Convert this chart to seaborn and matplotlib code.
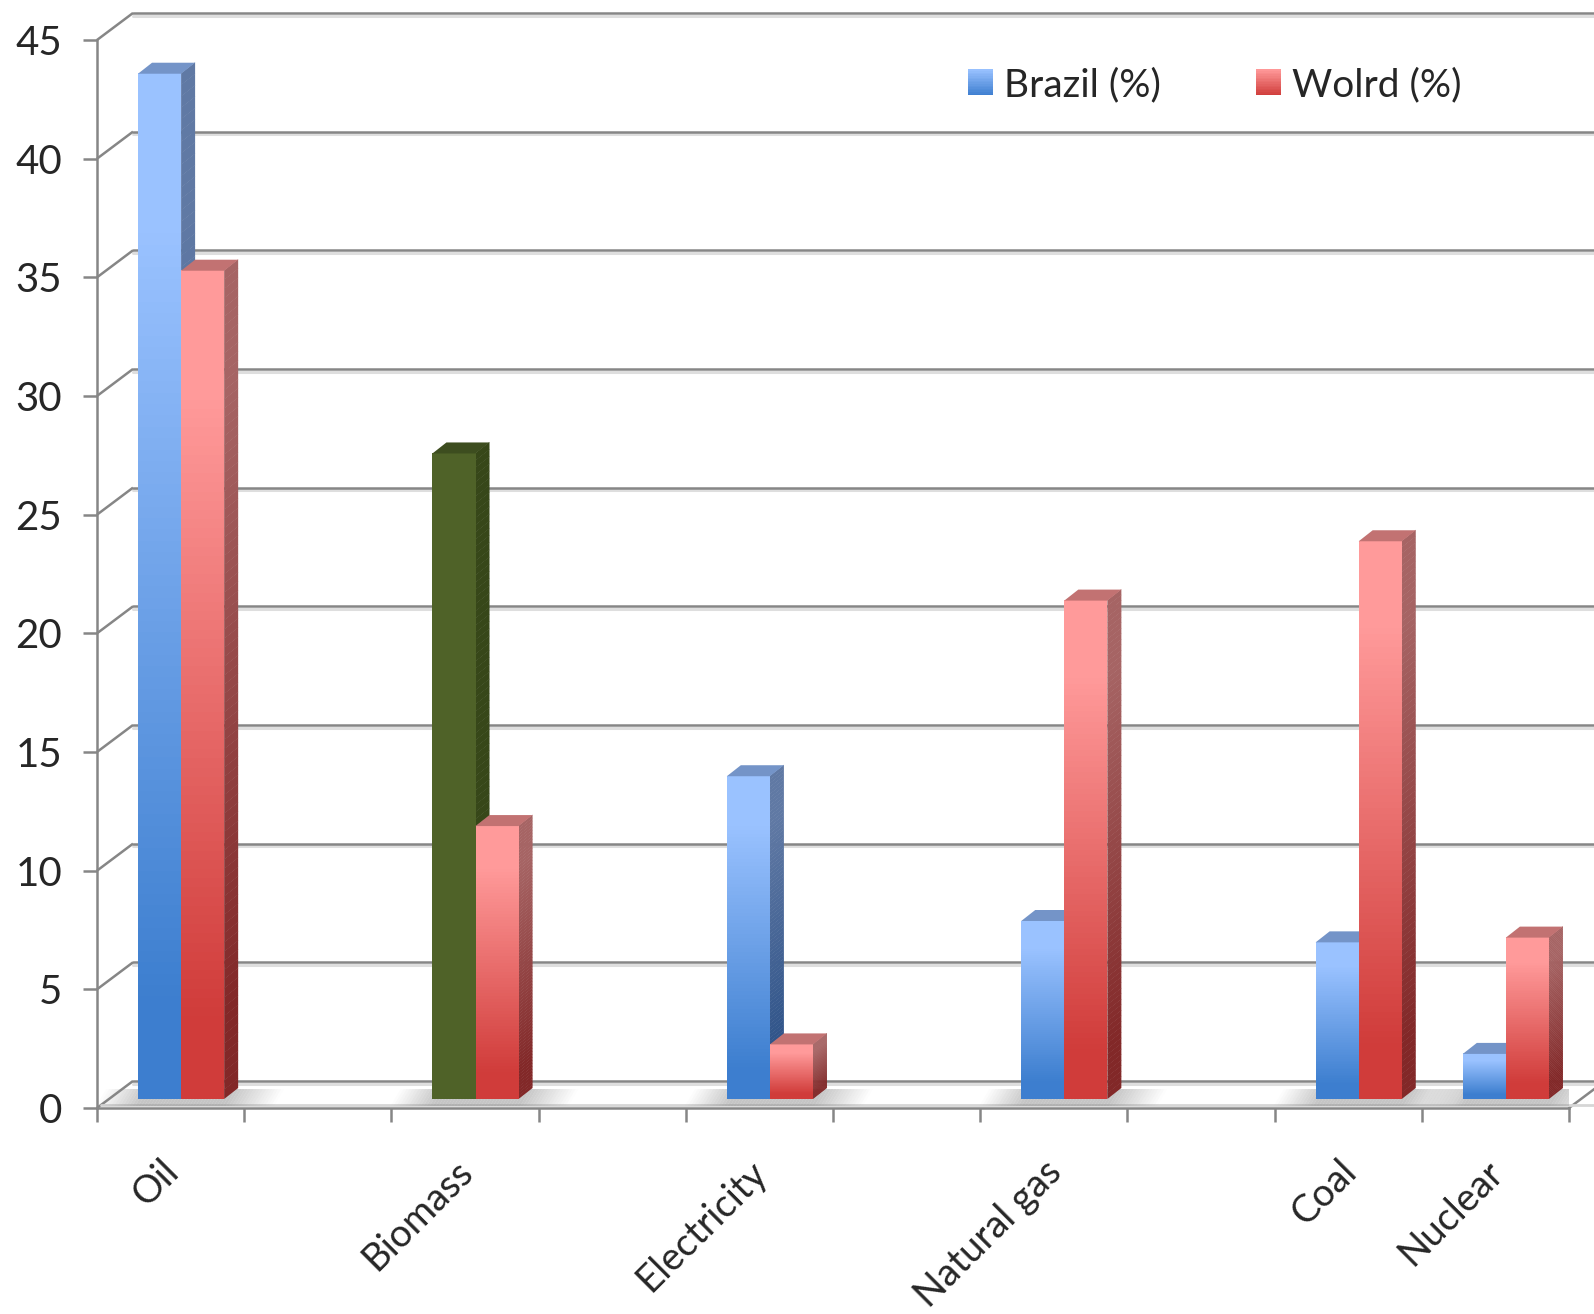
import numpy as np
import pandas as pd
import seaborn as sns
import matplotlib
matplotlib.use('Agg')
import matplotlib.pyplot as plt
from matplotlib.collections import PolyCollection
from matplotlib.legend_handler import HandlerBase
from matplotlib.patches import Rectangle, Patch, Polygon
from matplotlib.colors import to_rgb
import matplotlib.transforms as mtransforms

# Data
categories = ['Oil', 'Biomass', 'Electricity', 'Natural gas', 'Coal', 'Nuclear']
brazil = [43.2, 27.2, 13.6, 7.5, 6.6, 1.9]
world = [34.9, 11.5, 2.3, 21.0, 23.5, 6.8]
series_names = ['Brazil (%)', 'Wolrd (%)']
# the source sheet has blank category rows, which leave empty slots on the axis
axis_order = ['Oil', '', 'Biomass', ' ', 'Electricity', '  ', 'Natural gas', '   ', 'Coal', 'Nuclear']
y_ticks = [0, 5, 10, 15, 20, 25, 30, 35, 40, 45]

# Colours (front light/dark, side light/dark, top)
BLUE = dict(light='#9ac2ff', dark='#3d7ecf', side_light='#6079a4', side_dark='#2c5187', top='#7494c8')
RED = dict(light='#ff9a9a', dark='#d03c3a', side_light='#a66464', side_dark='#822828', top='#c27272')
GREEN = dict(light='#4f6228', dark='#4f6228', side_light='#374719', side_dark='#374719', top='#3d4d1f')
GRID = '#868686'


def mix(c0, c1, t):
    a, b = np.array(to_rgb(c0)), np.array(to_rgb(c1))
    return tuple(a + (b - a) * t)


def front_shade(t):
    # dark at the bottom, light towards the top of each bar
    return float(np.clip((t - 0.1) / 0.75, 0, 1))


class GradientHandler(HandlerBase):
    def __init__(self, light, dark):
        super().__init__()
        self.light, self.dark = light, dark

    def create_artists(self, legend, orig_handle, xdescent, ydescent, width, height, fontsize, trans):
        n = 16
        arts = []
        for i in range(n):
            c = mix(self.dark, self.light, (i + 0.5) / n)
            arts.append(Rectangle((-xdescent, -ydescent + height * i / n), width, height / n * 1.05,
                                  facecolor=c, edgecolor='none', transform=trans))
        return arts


df = pd.DataFrame({
    'category': categories * 2,
    'value': brazil + world,
    'series': [series_names[0]] * len(categories) + [series_names[1]] * len(categories),
})

sns.set_theme(style='white')
plt.rcParams['font.family'] = ['Lato', 'DejaVu Sans']

W, H, DPI = 1594, 1314, 100
fig = plt.figure(figsize=(W / DPI, H / DPI), dpi=DPI)
ax = fig.add_axes([97 / W, (H - 1108) / H, 1472 / W, 1068 / H])

palette = {series_names[0]: BLUE['dark'], series_names[1]: RED['dark']}
sns.barplot(data=df, x='category', y='value', hue='series', order=axis_order,
            hue_order=series_names, palette=palette, saturation=1, width=0.585, errorbar=None,
            legend=False, ax=ax)

ax.set_xlim(-0.5, 9.5)
ax.set_ylim(0, 45)
ax.set_xlabel('')
ax.set_ylabel('')

# pixel -> data conversions
sx = ax.bbox.width / 10.0
sy = ax.bbox.height / 45.0
plane_dx, plane_dy = 10.5 / sx, 9 / sy      # bars sit part-way into the depth
depth_dx, depth_dy = 14 / sx, 11 / sy       # bar depth
wall_dx, wall_dy = 36 / sx, 27 / sy         # back wall

# back wall gridlines + diagonal connectors
for v in y_ticks:
    ax.plot([-0.5, -0.5 + wall_dx], [v, v + wall_dy], color=GRID, lw=1.8, clip_on=False, zorder=1,
            solid_capstyle='butt')
    ax.plot([-0.5 + wall_dx, 10.2], [v + wall_dy - 2.5 / sy] * 2, color='#dedede', lw=2.2,
            clip_on=False, zorder=0.9)
    ax.plot([-0.5 + wall_dx, 10.2], [v + wall_dy] * 2, color=GRID, lw=1.8, clip_on=False, zorder=1)
ax.plot([9.5, 9.5 + wall_dx], [0, wall_dy], color=GRID, lw=1.8, clip_on=False, zorder=1)
ax.plot([-0.5 + 4 / sx, 10.0], [3.5 / sy] * 2, color='#d6d6d6', lw=2, clip_on=False, zorder=1)

# read bar geometry from seaborn's patches, then draw 3-D faces
bars = []
for p in ax.patches:
    x0, w, h = p.get_x(), p.get_width(), p.get_height()
    if np.isnan(h) or h <= 0:
        continue
    fc = p.get_facecolor()
    is_brazil = np.allclose(fc[:3], to_rgb(BLUE['dark']), atol=0.02)
    bars.append((x0, w, h, is_brazil))
    p.set_visible(False)

# floor shadows under each bar group
groups = {}
for x0, w, h, isb in bars:
    slot = int(round(x0 + w / 2 * (1 if isb else -1)))
    groups.setdefault(slot, []).append((x0, x0 + w))
for slot, spans in groups.items():
    left = min(s[0] for s in spans) + plane_dx
    right = max(s[1] for s in spans) + plane_dx
    xs = np.linspace(left - 42 / sx, right + 50 / sx, 60)
    polys, cols = [], []
    for a, b in zip(xs[:-1], xs[1:]):
        m = (a + b) / 2
        if m < left:
            alpha = 0.5 * (m - xs[0]) / (left - xs[0])
        elif m > right:
            alpha = 0.5 * (xs[-1] - m) / (xs[-1] - right)
        else:
            alpha = 0.5
        y_lo, y_hi = 2 / sy, plane_dy + 10 / sy
        polys.append([(a, y_lo), (b, y_lo), (b + 10 / sx, y_hi), (a + 10 / sx, y_hi)])
        cols.append((0.55, 0.55, 0.55, alpha))
    ax.add_collection(PolyCollection(polys, facecolors=cols, edgecolors='none', zorder=1.5))

bars.sort(key=lambda b: (b[0]))
n = 90
for i, (x0, w, h, isb) in enumerate(bars):
    cat_index = int(round(x0 + w))
    if isb and axis_order[cat_index] == 'Biomass':
        pal = GREEN
    else:
        pal = BLUE if isb else RED
    z = 3 + i * 0.1
    xl, xr = x0 + plane_dx, x0 + w + plane_dx
    yb, yt = plane_dy, h + plane_dy
    ys = np.linspace(yb, yt, n + 1)
    front, fcols, side, scols = [], [], [], []
    for a, b in zip(ys[:-1], ys[1:]):
        t = ((a + b) / 2 - yb) / h
        front.append([(xl, a), (xr, a), (xr, b + 0.02), (xl, b + 0.02)])
        fcols.append(mix(pal['dark'], pal['light'], front_shade(t)))
        side.append([(xr, a), (xr + depth_dx, a + depth_dy), (xr + depth_dx, b + depth_dy + 0.02), (xr, b + 0.02)])
        scols.append(mix(pal['side_dark'], pal['side_light'], front_shade(t)))
    ax.add_collection(PolyCollection(side, facecolors=scols, edgecolors='none', zorder=z, clip_on=False))
    ax.add_collection(PolyCollection(front, facecolors=fcols, edgecolors='none', zorder=z + 0.01, clip_on=False))
    ax.add_patch(Polygon([(xl, yt), (xl + depth_dx, yt + depth_dy), (xr + depth_dx, yt + depth_dy), (xr, yt)],
                         closed=True, facecolor=pal['top'], edgecolor='none', zorder=z + 0.02, clip_on=False))

# axes styling
for side_name in ['top', 'right']:
    ax.spines[side_name].set_visible(False)
for side_name in ['left', 'bottom']:
    ax.spines[side_name].set_color(GRID)
    ax.spines[side_name].set_linewidth(1.8)
    ax.spines[side_name].set_zorder(2)

ax.set_yticks(y_ticks)
ax.tick_params(axis='y', which='major', direction='out', length=10, width=1.8, color=GRID,
               labelsize=29, pad=15, left=True)
ax.set_xticks(np.arange(-0.5, 10, 1), minor=True)
ax.tick_params(axis='x', which='minor', direction='out', length=10, width=1.8, color=GRID, bottom=True)
ax.tick_params(axis='x', which='major', length=0, pad=42, labelsize=27.5)
shift = mtransforms.ScaledTranslation(2 / DPI, 0, fig.dpi_scale_trans)
for lab in ax.get_xticklabels():
    lab.set_rotation(45)
    lab.set_ha('right')
    lab.set_va('center')
    lab.set_rotation_mode('anchor')
    lab.set_transform(lab.get_transform() + shift)

handles = [Patch(label=series_names[0]), Patch(label=series_names[1])]
fig.legend(handles=handles, labels=series_names, loc='upper left',
           bbox_to_anchor=(968 / W, 1 - 67 / H), ncol=2, frameon=False, fontsize=28,
           handlelength=0.64, handleheight=0.64, handletextpad=0.28, columnspacing=2.45,
           borderpad=0, borderaxespad=0,
           handler_map={handles[0]: GradientHandler(BLUE['light'], BLUE['dark']),
                        handles[1]: GradientHandler(RED['light'], RED['dark'])})

fig.savefig('out.png', dpi=DPI)
